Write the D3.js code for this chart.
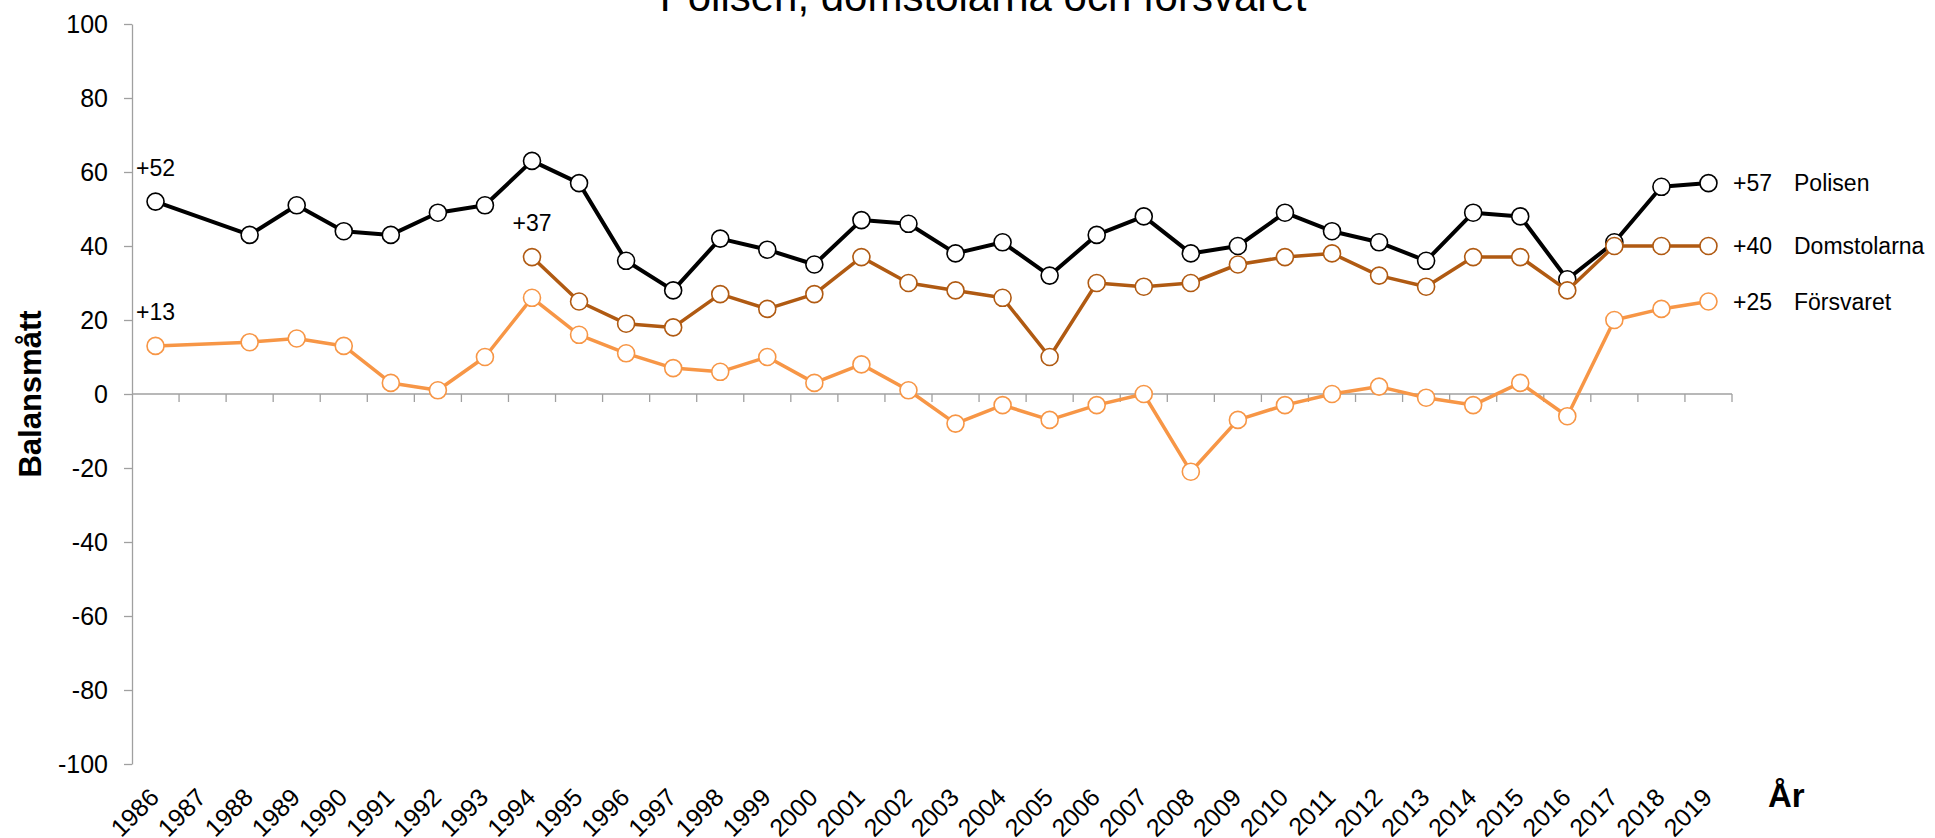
<!DOCTYPE html>
<html>
<head>
<meta charset="utf-8">
<script src="https://cdn.jsdelivr.net/npm/d3@7"></script>
<style>
  body { margin: 0; background: #fff; }
  svg { display: block; font-family: "Liberation Sans", Arial, sans-serif; }
</style>
</head>
<body>
<div id="chart"></div>
<script>
// data
const years = d3.range(1986, 2020);
const yTicks = [100, 80, 60, 40, 20, 0, -20, -40, -60, -80, -100];

const polisen = [52, null, 43, 51, 44, 43, 49, 51, 63, 57, 36, 28, 42, 39, 35, 47, 46, 38, 41, 32,
  43, 48, 38, 40, 49, 44, 41, 36, 49, 48, 31, 41, 56, 57];
const domstolarna = [null, null, null, null, null, null, null, null, 37, 25, 19, 18, 27, 23, 27, 37, 30, 28, 26, 10,
  30, 29, 30, 35, 37, 38, 32, 29, 37, 37, 28, 40, 40, 40];
const forsvaret = [13, null, 14, 15, 13, 3, 1, 10, 26, 16, 11, 7, 6, 10, 3, 8, 1, -8, -3, -7,
  -3, 0, -21, -7, -3, 0, 2, -1, -3, 3, -6, 20, 23, 25];

const seriesNames = ['Polisen', 'Domstolarna', 'Försvaret'];
const seriesColors = ['#000000', '#b05a12', '#f79646'];

const width = 1935, height = 838;
const plot = { left: 132, right: 1732, top: 24, bottom: 764 };

const svg = d3.select('#chart')
  .append('svg')
  .attr('width', width)
  .attr('height', height);

const x = d3.scaleBand()
  .domain(years)
  .range([plot.left, plot.right])
  .padding(0);

const y = d3.scaleLinear()
  .domain([-100, 100])
  .range([plot.bottom, plot.top]);

const axisColor = '#a0a0a0';

// title (partly cut off at the top, as in the original)
svg.append('text')
  .attr('x', 983)
  .attr('y', 11)
  .attr('text-anchor', 'middle')
  .style('font-size', '42px')
  .text('Polisen, domstolarna och försvaret');

// y axis
const yAxis = svg.append('g')
  .attr('class', 'y-axis')
  .attr('transform', `translate(${plot.left},0)`)
  .call(d3.axisLeft(y).tickValues(yTicks).tickFormat(d => String(d))
    .tickSize(8).tickPadding(16).tickSizeOuter(0));
yAxis.select('.domain').attr('stroke', axisColor).attr('stroke-width', 1.3);
yAxis.selectAll('.tick line').attr('stroke', axisColor).attr('stroke-width', 1.3);
yAxis.selectAll('.tick text')
  .style('font-size', '25px')
  .style('font-family', '"Liberation Sans", Arial, sans-serif')
  .attr('fill', '#000');

// x axis line at zero with ticks between categories
const zeroY = y(0);
const xAxis = svg.append('g').attr('class', 'x-axis');
xAxis.append('line')
  .attr('x1', plot.left).attr('x2', plot.right)
  .attr('y1', zeroY).attr('y2', zeroY)
  .attr('stroke', axisColor).attr('stroke-width', 1.5);
const boundaries = years.map(d => x(d)).concat([x(years[years.length - 1]) + x.bandwidth()]);
xAxis.selectAll('.xtick')
  .data(boundaries.slice(1))
  .enter().append('line')
  .attr('class', 'xtick')
  .attr('x1', d => d).attr('x2', d => d)
  .attr('y1', zeroY).attr('y2', zeroY + 8)
  .attr('stroke', axisColor).attr('stroke-width', 1.3);

// x tick labels at the bottom, rotated
svg.append('g')
  .attr('class', 'x-labels')
  .selectAll('text')
  .data(years)
  .enter().append('text')
  .attr('transform', d => `translate(${x(d) + x.bandwidth() / 2 + 5},${plot.bottom + 35}) rotate(-45)`)
  .attr('text-anchor', 'end')
  .style('font-size', '25px')
  .text(d => d);

// axis titles
svg.append('text')
  .attr('transform', `translate(41,${(plot.top + plot.bottom) / 2}) rotate(-90)`)
  .attr('text-anchor', 'middle')
  .style('font-size', '31px')
  .style('font-weight', 'bold')
  .text('Balansmått');

svg.append('text')
  .attr('x', 1768)
  .attr('y', 807)
  .style('font-size', '33px')
  .style('font-weight', 'bold')
  .text('År');

// series
const allSeries = [polisen, domstolarna, forsvaret];
const line = d3.line()
  .x(d => x(d.year) + x.bandwidth() / 2)
  .y(d => y(d.value));

allSeries.forEach((values, i) => {
  const pts = years.map((yr, j) => ({ year: yr, value: values[j] })).filter(d => d.value !== null);
  const g = svg.append('g').attr('class', 'series');

  g.append('path')
    .datum(pts)
    .attr('fill', 'none')
    .attr('stroke', seriesColors[i])
    .attr('stroke-width', i === 0 ? 4 : 3.5)
    .attr('stroke-linejoin', 'round')
    .attr('d', line);

  g.selectAll('circle')
    .data(pts)
    .enter().append('circle')
    .attr('cx', d => x(d.year) + x.bandwidth() / 2)
    .attr('cy', d => y(d.value))
    .attr('r', 8.5)
    .attr('fill', '#fff')
    .attr('stroke', seriesColors[i])
    .attr('stroke-width', 1.6);

  // first value above the first point
  const first = pts[0];
  g.append('text')
    .attr('x', x(first.year) + x.bandwidth() / 2)
    .attr('y', y(first.value) - 34)
    .attr('dy', '0.35em')
    .attr('text-anchor', 'middle')
    .style('font-size', '23px')
    .text('+' + first.value);

  // last value and name on the right
  const last = pts[pts.length - 1];
  g.append('text')
    .attr('x', 1733)
    .attr('y', y(last.value))
    .attr('dy', '0.35em')
    .style('font-size', '23px')
    .text('+' + last.value);
  g.append('text')
    .attr('x', 1794)
    .attr('y', y(last.value))
    .attr('dy', '0.35em')
    .style('font-size', '23px')
    .text(seriesNames[i]);
});
</script>
</body>
</html>
